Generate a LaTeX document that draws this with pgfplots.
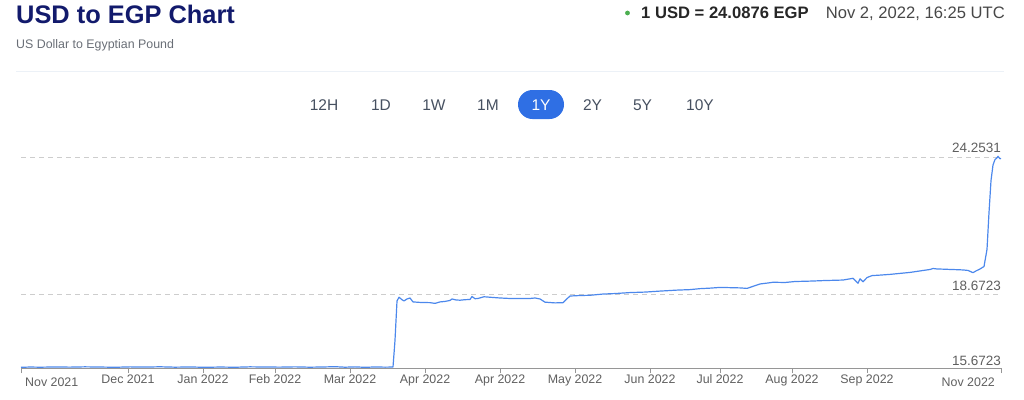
\documentclass[border=0pt]{standalone}
\usepackage{pgfplots}
\pgfplotsset{compat=1.18}
\usepackage{fontspec}
\setmainfont{Liberation Sans}
\definecolor{titlecol}{RGB}{18,26,108}
\definecolor{subcol}{RGB}{105,110,118}
\definecolor{btncol}{RGB}{70,80,96}
\definecolor{pillcol}{RGB}{47,111,228}
\definecolor{linecol}{RGB}{76,136,236}
\definecolor{axcol}{RGB}{150,150,150}
\definecolor{labcol}{RGB}{95,95,95}
\definecolor{dashcol}{RGB}{205,205,205}
\definecolor{dotcol}{RGB}{76,175,80}
\definecolor{sepcol}{RGB}{236,241,247}
\begin{document}
\begin{tikzpicture}
\path[use as bounding box] (0pt,0pt) rectangle (1024pt,-399pt);
% header
\node[anchor=base west, inner sep=0, text=titlecol, font=\fontsize{25.4}{30}\selectfont\bfseries] at (16pt,-23.3pt) {USD to EGP Chart};
\node[anchor=base west, inner sep=0, text=subcol, font=\fontsize{12.4}{15}\selectfont] at (16pt,-48.5pt) {US Dollar to Egyptian Pound};
\fill[dotcol] (627.5pt,-13pt) circle (2.4pt);
\node[anchor=base west, inner sep=0, text=black!85, font=\fontsize{16.6}{20}\selectfont\bfseries] at (641pt,-18.5pt) {1 USD = 24.0876 EGP};
\node[anchor=base east, inner sep=0, text=black!72, font=\fontsize{16.6}{20}\selectfont] at (1005pt,-18.5pt) {Nov 2, 2022, 16:25 UTC};
\draw[sepcol, line width=0.8pt] (16pt,-71pt) -- (1004pt,-71pt);
% range buttons
\fill[pillcol, rounded corners=14.5pt] (518pt,-90pt) rectangle (564pt,-119pt);
\foreach \xx/\lab in {324/12H,381/1D,434/1W,488/1M,592.5/2Y,642.5/5Y,700/10Y}{
  \node[anchor=base, inner sep=0, text=btncol, font=\fontsize{15.5}{18}\selectfont] at (\xx pt,-110.5pt) {\lab};
}
\node[anchor=base, inner sep=0, text=white, font=\fontsize{15.5}{18}\selectfont] at (541pt,-110.5pt) {1Y};
% chart
\begin{axis}[
  at={(21pt,-368pt)}, anchor=south west,
  scale only axis, width=980pt, height=211pt,
  xmin=21, xmax=1001, ymin=15.6723, ymax=24.2531,
  axis x line=bottom, axis y line=none,
  axis line style={-, axcol, line width=0.9pt},
  clip=false,
  xtick={21,128,203,275,350,425,500,575,650,720,792,867,1001},
  xticklabels={,Dec 2021,Jan 2022,Feb 2022,Mar 2022,Apr 2022,Apr 2022,May 2022,Jun 2022,Jul 2022,Aug 2022,Sep 2022,},
  tick align=outside, major tick length=5pt,
  tick style={axcol, line width=0.9pt},
  xticklabel style={text=labcol, font=\fontsize{12.4}{15}\selectfont, inner sep=0, anchor=base, yshift=-10.5pt},
  typeset ticklabels with strut,
]
\draw[dashcol, dash pattern=on 5pt off 4pt, line width=0.8pt] (axis cs:21,24.2531) -- (axis cs:1001,24.2531);
\draw[dashcol, dash pattern=on 5pt off 4pt, line width=0.8pt] (axis cs:21,18.6723) -- (axis cs:1001,18.6723);
\node[anchor=base east, inner sep=0, text=labcol, font=\fontsize{13.5}{16}\selectfont] at (axis cs:1001,24.2531) [yshift=4.5pt] {24.2531};
\node[anchor=base east, inner sep=0, text=labcol, font=\fontsize{13.5}{16}\selectfont] at (axis cs:1001,18.6723) [yshift=3.5pt] {18.6723};
\node[anchor=base east, inner sep=0, text=labcol, font=\fontsize{13.5}{16}\selectfont] at (axis cs:1001,15.6723) [yshift=3pt] {15.6723};
\node[anchor=base west, inner sep=0, text=labcol, font=\fontsize{12.4}{15}\selectfont] at (axis cs:25,15.6723) [yshift=-18pt] {Nov 2021};
\node[anchor=base east, inner sep=0, text=labcol, font=\fontsize{12.4}{15}\selectfont] at (axis cs:995,15.6723) [yshift=-18pt] {Nov 2022};
\addplot[linecol, line width=1.2pt, mark=none, line join=round] coordinates {
(21,15.700) (30,15.712) (40,15.705) (55,15.715) (70,15.708) (85,15.720)
(100,15.712) (115,15.702) (130,15.718) (145,15.710) (160,15.722) (175,15.706)
(190,15.715) (205,15.700) (220,15.712) (235,15.703) (250,15.720) (265,15.713)
(280,15.708) (295,15.719) (310,15.705) (325,15.716) (335,15.726) (345,15.705)
(355,15.718) (365,15.700) (375,15.715) (385,15.707) (393,15.712)
(395,16.8) (397,18.40) (399,18.55) (402,18.45) (404,18.40) (407,18.48) (410,18.52)
(413,18.36) (420,18.34) (430,18.33) (435,18.30) (440,18.36) (445,18.38) (450,18.42)
(452,18.48) (456,18.44) (460,18.43) (465,18.45) (470,18.46) (472,18.58) (475,18.49)
(478,18.50) (484,18.57) (490,18.55) (500,18.52) (510,18.50) (520,18.50) (530,18.50)
(535,18.52) (540,18.48) (545,18.35) (555,18.32) (563,18.33) (566,18.45) (570,18.60)
(580,18.62) (590,18.63) (603,18.68) (615,18.70) (630,18.74) (645,18.76) (660,18.80)
(677,18.84) (690,18.86) (700,18.90) (710,18.92) (720,18.95) (730,18.94) (740,18.93)
(747,18.91) (755,19.02) (760,19.09) (768,19.13) (773,19.16) (785,19.15) (795,19.19)
(805,19.20) (813,19.21) (825,19.23) (835,19.24) (843,19.25) (853,19.32) (856,19.20)
(858,19.12) (860,19.30) (863,19.18) (867,19.35) (872,19.43) (880,19.45) (890,19.48)
(900,19.52) (910,19.56) (920,19.62) (930,19.68) (933,19.72) (937,19.70) (945,19.69)
(950,19.68) (958,19.67) (963,19.66) (968,19.64) (973,19.55) (976,19.62) (980,19.70)
(984,19.80) (987,20.5) (989,22.0) (991,23.3) (993,23.93) (995,24.15) (997,24.22)
(998,24.28) (1000,24.18) (1001,24.20)
};
\end{axis}
\end{tikzpicture}
\end{document}
